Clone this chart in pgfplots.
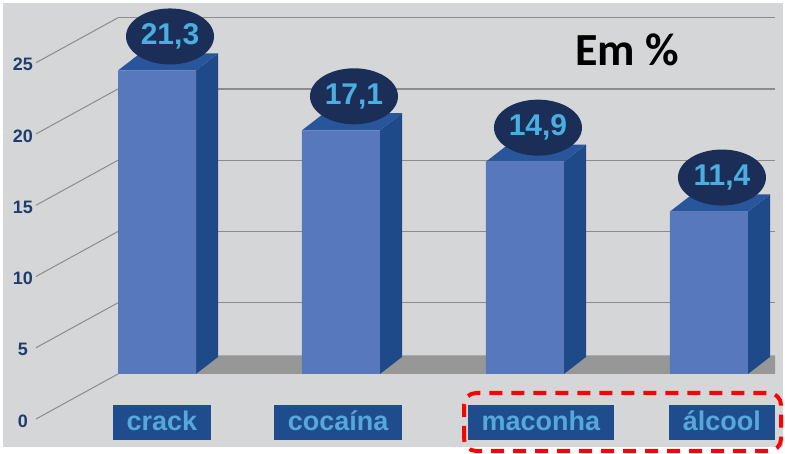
\documentclass[border=0pt]{standalone}
\usepackage{fontspec}
\setmainfont{Liberation Sans}
\newfontfamily\carlito{Carlito}
\usepackage{pgfplots}
\pgfplotsset{compat=1.18}
\usetikzlibrary{shapes.geometric}
\definecolor{bgray}{HTML}{D5D6D8}
\definecolor{frontc}{HTML}{5878BE}
\definecolor{sidec}{HTML}{1E4A8A}
\definecolor{topc}{HTML}{29569A}
\definecolor{ellc}{HTML}{1A2E57}
\definecolor{elltxt}{HTML}{4AAEE0}
\definecolor{boxc}{HTML}{1F4C8C}
\definecolor{boxtxt}{HTML}{55A8DA}
\definecolor{tickc}{HTML}{1F3C6E}
\definecolor{gridc}{HTML}{8C8C8C}
\definecolor{floorc}{HTML}{979797}
\begin{document}
\begin{tikzpicture}
\path[use as bounding box] (0,0) rectangle (785pt,454pt);
\fill[white] (0,0) rectangle (785pt,454pt);
\fill[bgray] (3pt,7pt) rectangle (783pt,451pt);
\begin{axis}[
  at={(118pt,80pt)}, anchor=south west,
  scale only axis, width=657.2pt, height=363.4pt,
  xmin=-0.212, xmax=3.36, ymin=0, ymax=25.5,
  clip=false,
  axis line style={draw=none},
  tick style={draw=none},
  major tick length=0pt,
  /pgf/number format/assume math mode=true,
  ytick={5,10,15,20,25},
  extra y ticks={0},
  extra y tick style={grid=none},
  ymajorgrids,
  grid style={gridc, line width=1.3pt},
  yticklabel style={anchor=center, xshift=-95pt, yshift=-47pt, text=tickc,
     font=\bfseries\fontsize{18}{18}\selectfont},
  xtick={0.027,0.984,2.087,3.07},
  xticklabels={crack,cocaína,maconha,álcool},
  xticklabel style={anchor=north, yshift=-31pt, fill=boxc, text=boxtxt,
     font=\bfseries\fontsize{27}{27}\selectfont, inner xsep=14pt, inner ysep=4pt,
     text height=21pt, text depth=6pt},
]
% connector lines from tick labels to back plane
\pgfplotsinvokeforeach{0,5,10,15,20,25}{
  \draw[gridc, line width=1pt] (axis cs:-0.212,#1) -- ++(-82pt,-45pt);
}
% floor strip
\addplot[fill=floorc, draw=none, mark=none] coordinates {
  (0.212,0) (3.36,0) (3.36,1.3) (0.332,1.3)} -- cycle;
% side faces
\addplot[fill=sidec, draw=none, mark=none] coordinates {
  (0.212,0) (0.332,1.2) (0.332,22.5) (0.212,21.3)} -- cycle;
\addplot[fill=sidec, draw=none, mark=none] coordinates {
  (1.212,0) (1.332,1.2) (1.332,18.3) (1.212,17.1)} -- cycle;
\addplot[fill=sidec, draw=none, mark=none] coordinates {
  (2.212,0) (2.332,1.2) (2.332,16.1) (2.212,14.9)} -- cycle;
\addplot[fill=sidec, draw=none, mark=none] coordinates {
  (3.212,0) (3.332,1.2) (3.332,12.6) (3.212,11.4)} -- cycle;
% top faces
\addplot[fill=topc, draw=none, mark=none] coordinates {
  (-0.212,21.3) (0.212,21.3) (0.332,22.5) (-0.092,22.5)} -- cycle;
\addplot[fill=topc, draw=none, mark=none] coordinates {
  (0.788,17.1) (1.212,17.1) (1.332,18.3) (0.908,18.3)} -- cycle;
\addplot[fill=topc, draw=none, mark=none] coordinates {
  (1.788,14.9) (2.212,14.9) (2.332,16.1) (1.908,16.1)} -- cycle;
\addplot[fill=topc, draw=none, mark=none] coordinates {
  (2.788,11.4) (3.212,11.4) (3.332,12.6) (2.908,12.6)} -- cycle;
% front faces with value labels
\addplot[ybar, bar width=78pt, fill=frontc, draw=none,
  nodes near coords,
  /pgf/number format/.cd, use comma, fixed, precision=1, fixed zerofill, assume math mode=true,
  /pgfplots/.cd,
  every node near coord/.append style={ellipse, fill=ellc, text=elltxt,
     anchor=center, xshift=13pt, yshift=34pt, minimum width=88pt, minimum height=56pt,
     inner sep=0pt, font=\bfseries\fontsize{30}{30}\selectfont},
] coordinates {(0,21.3) (1,17.1) (2,14.9) (3,11.4)};
\end{axis}
\node[font=\carlito\bfseries\fontsize{46}{46}\selectfont] at (627pt,404pt) {Em \%};
\draw[red, line width=4pt, dash pattern=on 13pt off 9pt, rounded corners=12pt]
  (464pt,3pt) rectangle (781pt,61pt);
\end{tikzpicture}
\end{document}
